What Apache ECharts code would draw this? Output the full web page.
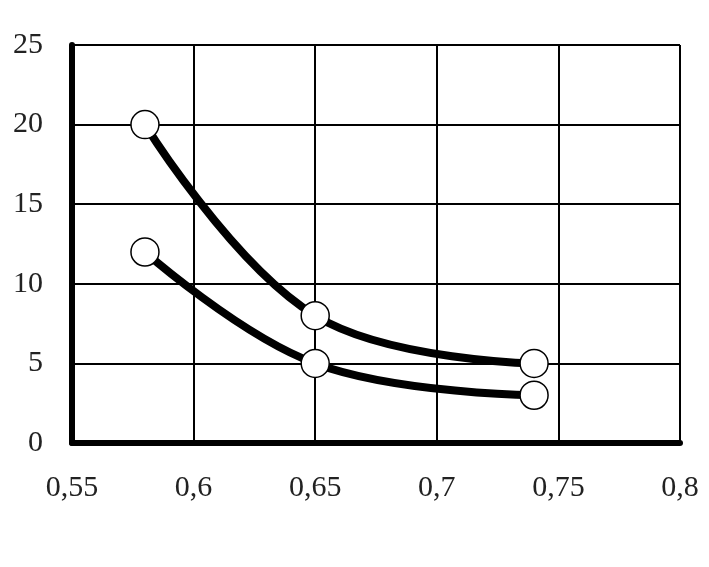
<!DOCTYPE html>
<html>
<head>
<meta charset="utf-8">
<script src="https://cdn.jsdelivr.net/npm/echarts@6/dist/echarts.min.js"></script>
<style>
  html, body { margin: 0; padding: 0; background: #fff; }
  #chart { width: 709px; height: 567px; }
</style>
</head>
<body>
<div id="chart"></div>
<script>
// values
const xValues = [0.58, 0.65, 0.74]
const upperY = [20, 8, 5]
const lowerY = [12, 5, 3]

const toPairs = (ys) => xValues.map((x, i) => [x, ys[i]])
const fmt = (v) => String(+v.toFixed(2)).replace('.', ',')

const labelFont = { fontFamily: 'Liberation Serif', fontSize: 30, color: '#222' }

function lineSeries(ys) {
  return {
    type: 'line',
    data: toPairs(ys),
    smooth: 0.4,
    symbol: 'circle',
    symbolSize: 28,
    lineStyle: { color: '#000', width: 8 },
    itemStyle: { color: '#fff', borderColor: '#000', borderWidth: 1.5 },
    z: 3
  }
}

const chart = echarts.init(document.getElementById('chart'))
chart.setOption({
  animation: false,
  backgroundColor: '#fff',
  grid: { left: 72, right: 29, top: 45, bottom: 124 },
  xAxis: {
    type: 'value',
    min: 0.55,
    max: 0.8,
    interval: 0.05,
    axisLine: { show: true, lineStyle: { color: '#000', width: 6 } },
    axisTick: { show: false },
    axisLabel: { ...labelFont, margin: 30, formatter: fmt },
    splitLine: { show: true, lineStyle: { color: '#000', width: 2 } }
  },
  yAxis: {
    type: 'value',
    min: 0,
    max: 25,
    interval: 5,
    axisLine: { show: true, lineStyle: { color: '#000', width: 6 } },
    axisTick: { show: false },
    axisLabel: { ...labelFont, margin: 29 },
    splitLine: { show: true, lineStyle: { color: '#000', width: 2 } }
  },
  series: [lineSeries(upperY), lineSeries(lowerY)]
})
</script>
</body>
</html>
